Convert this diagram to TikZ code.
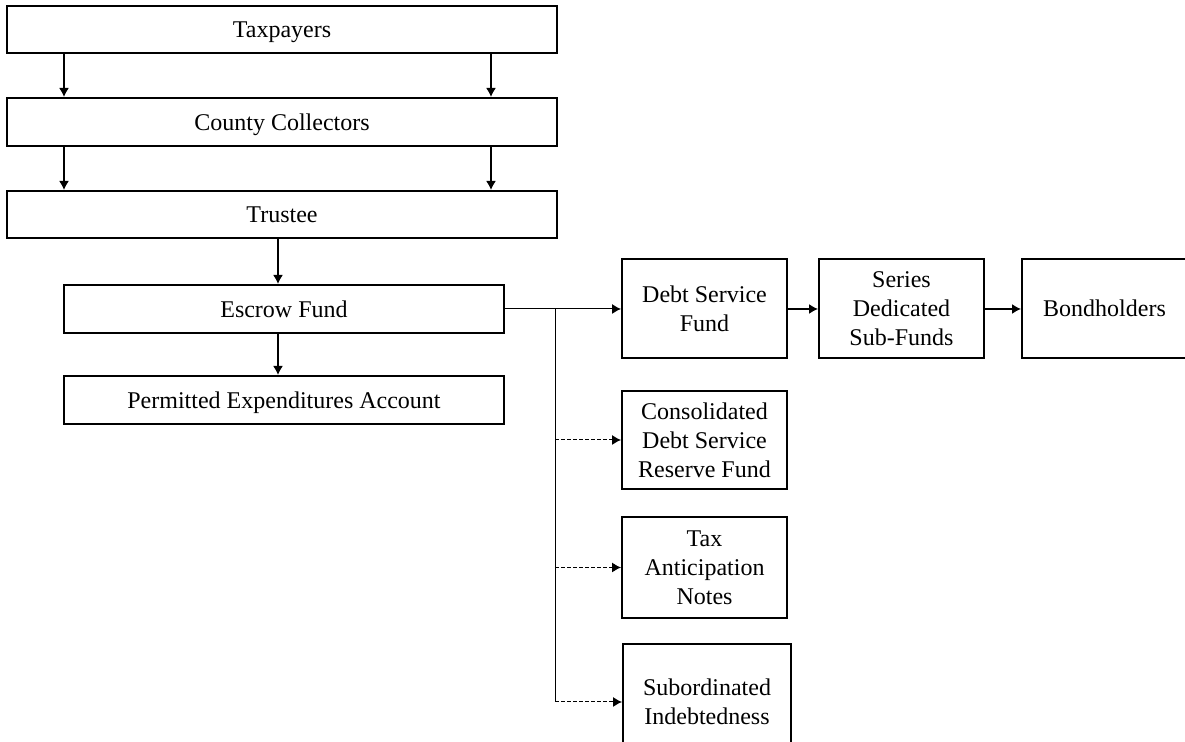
\documentclass[tikz,border=0pt]{standalone}
\usepackage{fontspec}
\setmainfont{Liberation Serif}
\usetikzlibrary{arrows.meta}

\begin{document}
\begin{tikzpicture}[x=0.5pt, y=-0.5pt,
        box/.style={draw, line width=1pt, inner sep=0pt, align=center, text depth=0pt, font=\fontsize{12}{14.5}\selectfont},
        arr/.style={-{Latex[length=4.5pt,width=5pt]}, line width=0.8pt},
        darr/.style={-{Latex[length=4.5pt,width=5pt]}, line width=0.5pt, dash pattern=on 2pt off 1pt}]
        \useasboundingbox (0,0) rectangle (1185,742);

        % left column
        \node[box, minimum width=275pt, minimum height=23.5pt] (tax) at (282,29.5) {Taxpayers};
        \node[box, minimum width=275pt, minimum height=24pt] (coll) at (282,122) {County Collectors};
        \node[box, minimum width=275pt, minimum height=23.5pt] (trustee) at (282,214.5) {Trustee};
        \node[box, minimum width=220pt, minimum height=24pt] (escrow) at (284,309) {Escrow Fund};
        \node[box, minimum width=220pt, minimum height=24pt] (permit) at (284,400) {Permitted Expenditures Account};

        % funds
        \node[box, minimum width=82.5pt, minimum height=49.5pt] (dsf) at (704.5,308.5) {Debt Service\\Fund};
        \node[box, minimum width=82.5pt, minimum height=49.5pt] (series) at (901.5,308.5) {Series\\Dedicated\\Sub-Funds};
        \node[box, minimum width=82.5pt, minimum height=49.5pt] (bond) at (1104.5,308.5) {Bondholders};
        \node[box, minimum width=82.5pt, minimum height=49pt] (cons) at (704.5,440) {Consolidated\\Debt Service\\Reserve Fund};
        \node[box, minimum width=82.5pt, minimum height=50.5pt] (tan) at (704.5,567.5) {Tax\\Anticipation\\Notes};
        \node[box, minimum width=84pt, minimum height=58pt] (sub) at (707,702) {Subordinated\\Indebtedness};

        \draw[arr] ([xshift=-109pt]tax.south) -- ([xshift=-109pt]coll.north);
        \draw[arr] ([xshift=104.5pt]tax.south) -- ([xshift=104.5pt]coll.north);
        \draw[arr] ([xshift=-109pt]coll.south) -- ([xshift=-109pt]trustee.north);
        \draw[arr] ([xshift=104.5pt]coll.south) -- ([xshift=104.5pt]trustee.north);
        \draw[arr] ([xshift=-2pt]trustee.south) -- ([xshift=-3pt]escrow.north);
        \draw[arr] ([xshift=-3pt]escrow.south) -- ([xshift=-3pt]permit.north);

        \coordinate (split) at ([xshift=25pt]escrow.east);
        \draw[arr, line width=0.5pt] (escrow.east) -- (escrow.east -| dsf.west);
        \draw[arr, line width=0.7pt] (escrow.east -| dsf.east) -- (escrow.east -| series.west);
        \draw[arr, line width=0.7pt] (escrow.east -| series.east) -- (escrow.east -| bond.west);
        \draw[line width=0.5pt] (split) -- (split |- sub.west);
        \draw[darr] (split |- cons.west) -- (cons.west);
        \draw[darr] (split |- tan.west) -- (tan.west);
        \draw[darr] (split |- sub.west) -- (sub.west);
    \end{tikzpicture}
\end{document}
